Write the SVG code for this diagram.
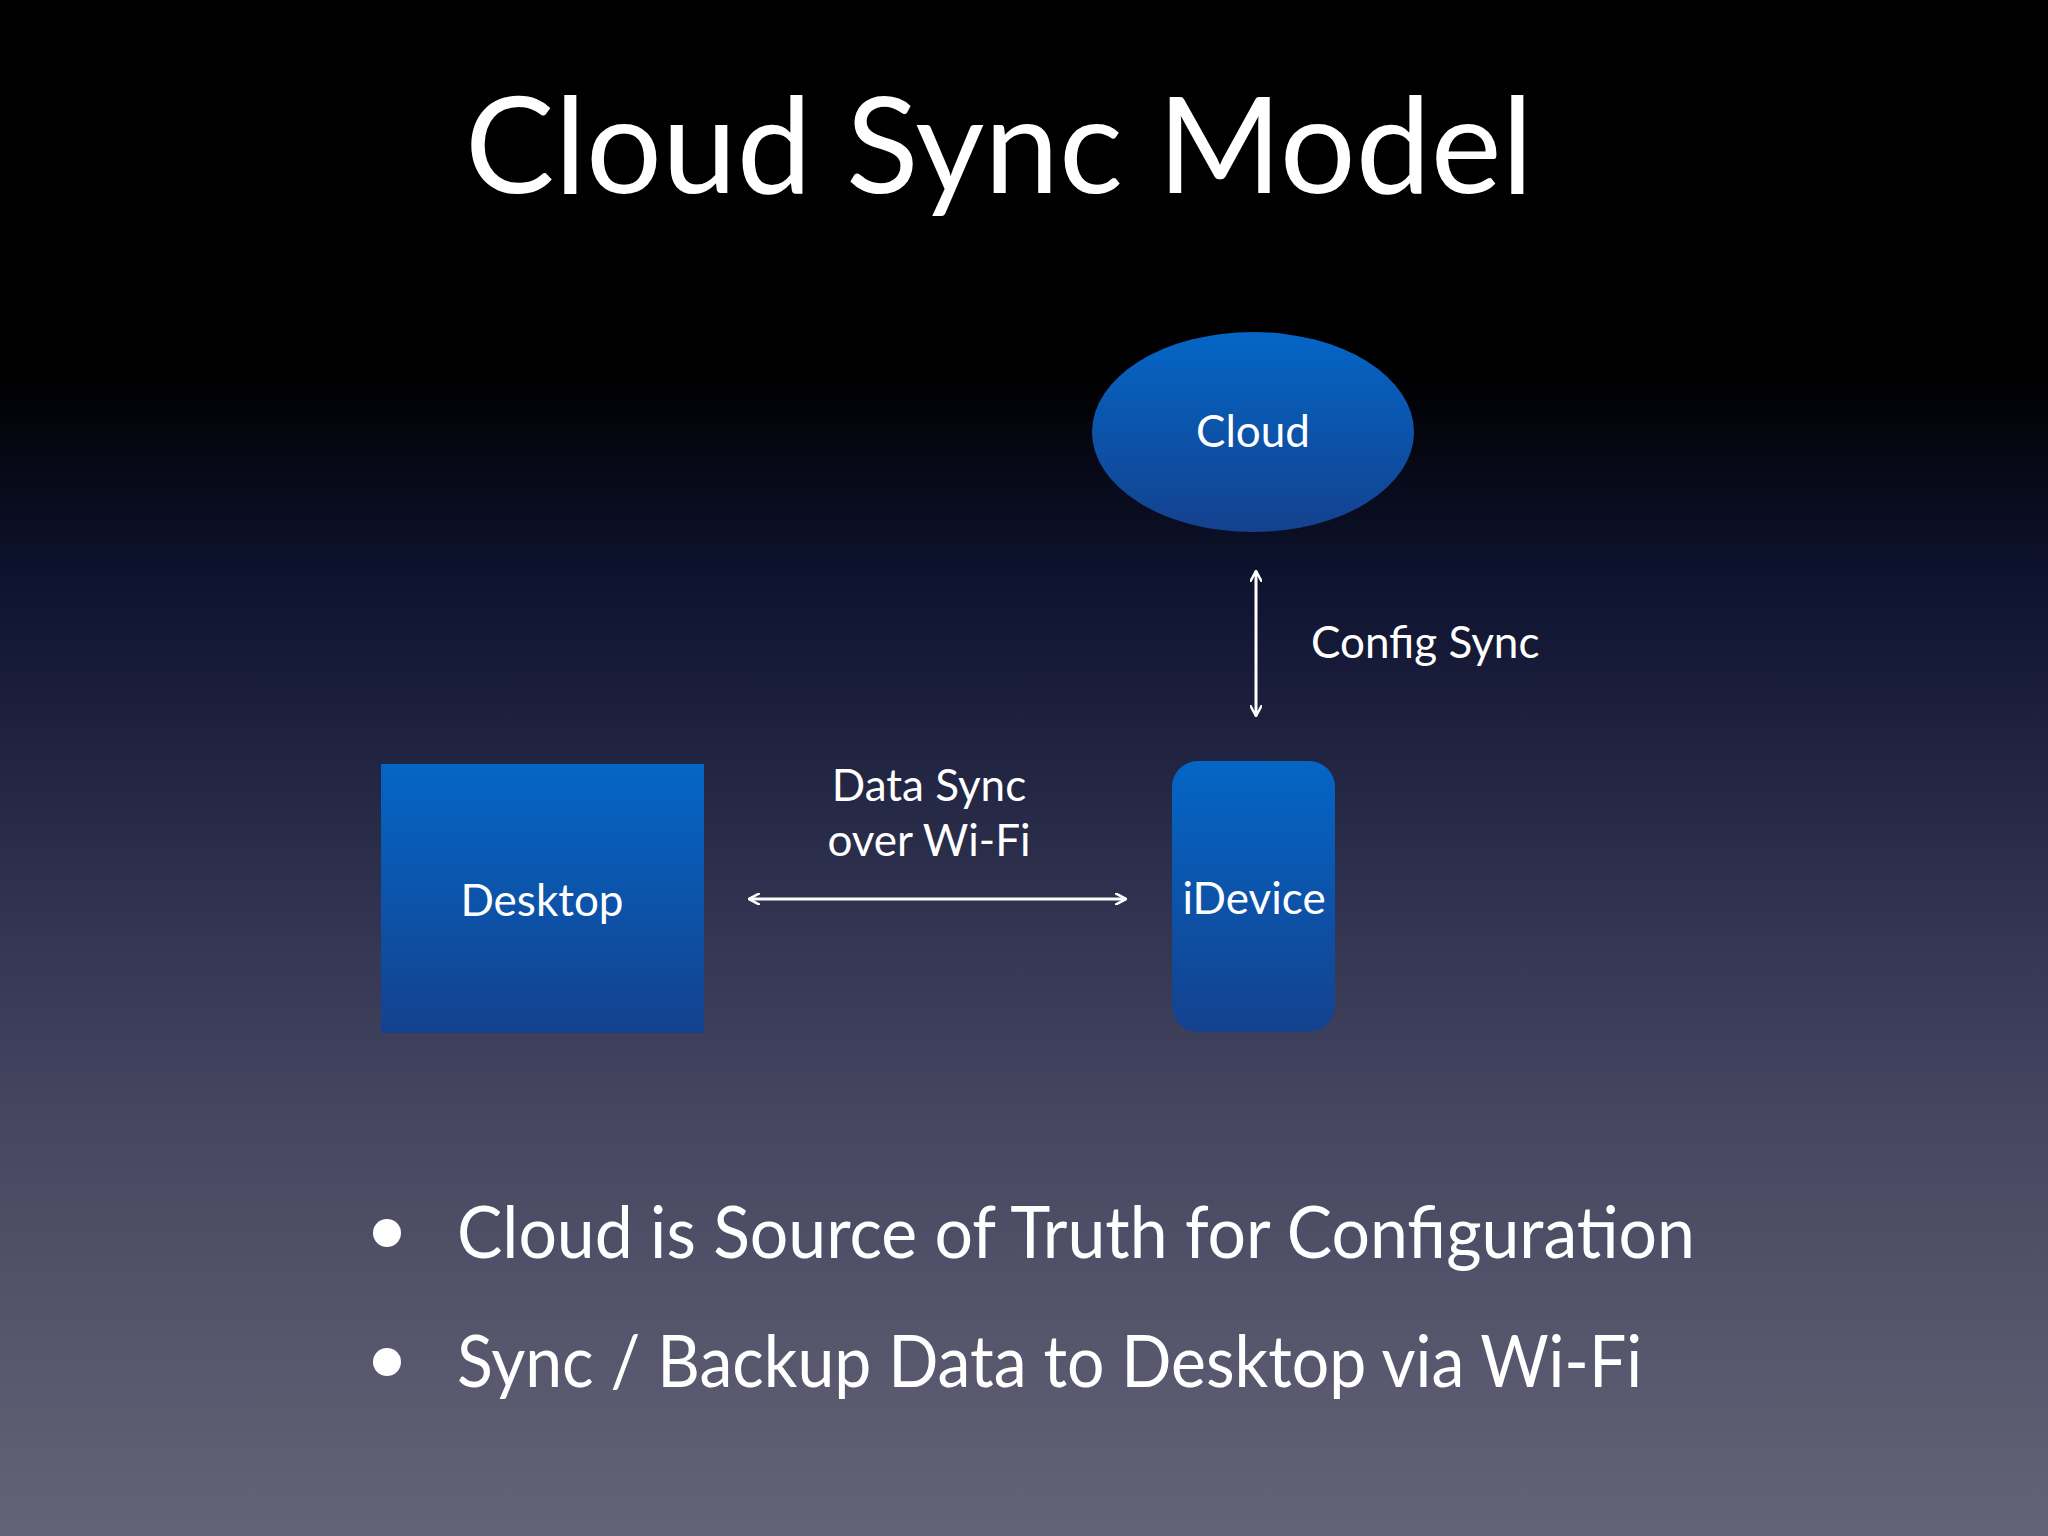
<svg xmlns="http://www.w3.org/2000/svg" width="2048" height="1536" viewBox="0 0 2048 1536">
<defs>
<linearGradient id="bg" x1="0" y1="0" x2="0" y2="1">
<stop offset="0" stop-color="#000"/>
<stop offset="0.24" stop-color="#000"/>
<stop offset="0.38" stop-color="#0e1330"/>
<stop offset="0.55" stop-color="#2a2d4a"/>
<stop offset="0.72" stop-color="#454560"/>
<stop offset="1" stop-color="#646376"/>
</linearGradient>
<linearGradient id="node" x1="0" y1="0" x2="0" y2="1">
<stop offset="0" stop-color="#0466c6"/>
<stop offset="1" stop-color="#14418e"/>
</linearGradient>
<marker id="ah" viewBox="0 0 12 12" refX="11" refY="6" markerWidth="12" markerHeight="12" orient="auto-start-reverse" markerUnits="userSpaceOnUse">
<path d="M0,0 L11,6 L0,12" fill="none" stroke="#fff" stroke-width="2.5"/>
</marker>
<style>
text{font-family:"Lato","Open Sans",sans-serif;fill:#fff}
.lbl{font-size:44px;text-anchor:middle}
.bul{font-size:72px}
</style>
</defs>
<rect width="2048" height="1536" fill="url(#bg)"/>
<text x="999" y="193" font-size="134" text-anchor="middle">Cloud Sync Model</text>
<g id="cloud"><ellipse cx="1253" cy="432" rx="161" ry="100" fill="url(#node)"/><text class="lbl" x="1253" y="447">Cloud</text></g>
<g id="desktop"><rect x="381" y="764" width="323" height="269" fill="url(#node)"/><text class="lbl" x="542" y="916">Desktop</text></g>
<g id="idevice"><rect x="1172" y="761" width="163" height="271" rx="26" fill="url(#node)"/><text class="lbl" x="1254" y="914">iDevice</text></g>
<g id="connectors" stroke="#fff" stroke-width="3" fill="none">
<line x1="1256" y1="571" x2="1256" y2="716" marker-start="url(#ah)" marker-end="url(#ah)"/>
<line x1="749" y1="899" x2="1126" y2="899" marker-start="url(#ah)" marker-end="url(#ah)"/>
</g>
<text x="1311" y="658" font-size="44">Config Sync</text>
<text class="lbl" x="929" y="801">Data Sync</text>
<text class="lbl" x="929" y="856">over Wi-Fi</text>
<circle cx="387" cy="1233" r="14" fill="#fff"/>
<circle cx="387" cy="1362" r="14" fill="#fff"/>
<text class="bul" x="457" y="1258" textLength="1238" lengthAdjust="spacingAndGlyphs">Cloud is Source of Truth for Configuration</text>
<text class="bul" x="457" y="1387" textLength="1185" lengthAdjust="spacingAndGlyphs">Sync / Backup Data to Desktop via Wi-Fi</text>
</svg>
